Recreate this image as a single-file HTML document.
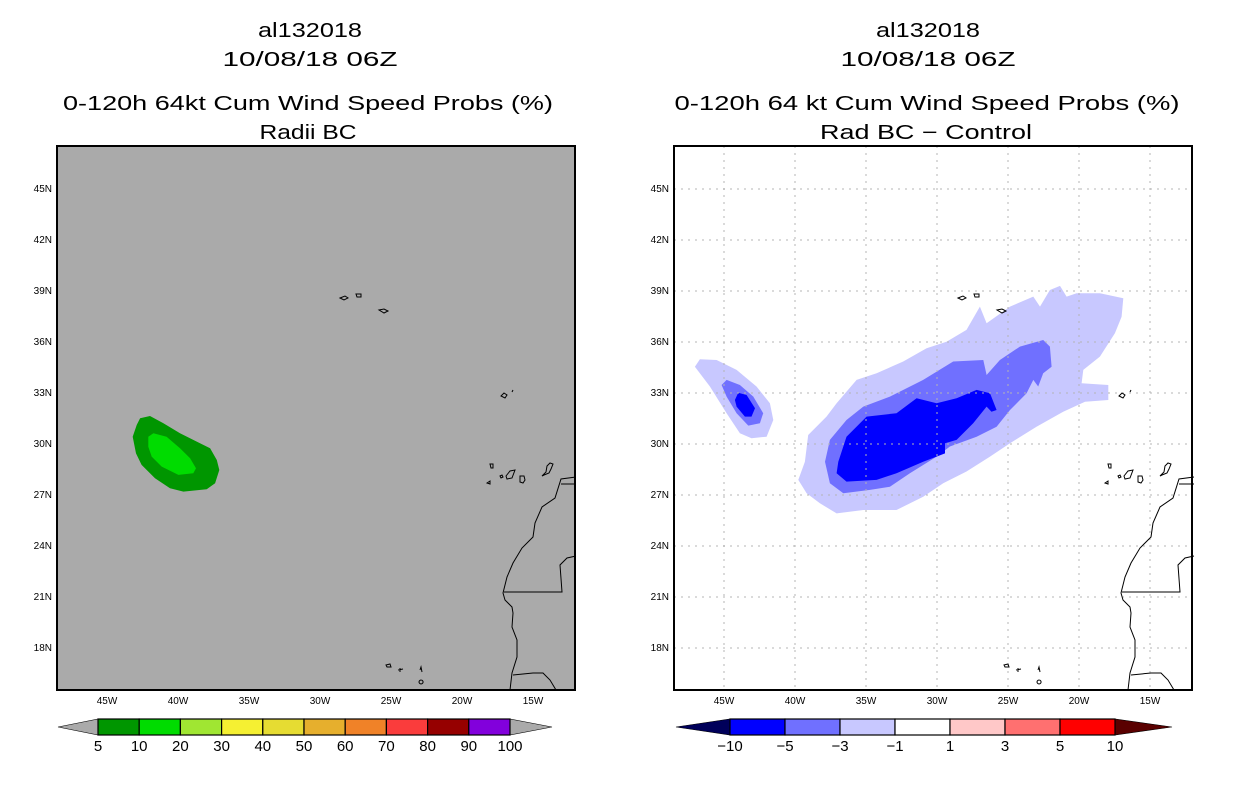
<!DOCTYPE html>
<html><head><meta charset="utf-8"><style>
html,body{margin:0;padding:0;background:#fff;}
svg text{font-family:"Liberation Sans",sans-serif;}
</style></head><body>
<svg id="chart" width="1236" height="800" viewBox="0 0 1236 800" xmlns="http://www.w3.org/2000/svg"></svg>
<script>
// ---- data ----
const latTicks=[45,42,39,36,33,30,27,24,21,18];
const lonTicks=[45,40,35,30,25,20,15];
const leftBounds=['5','10','20','30','40','50','60','70','80','90','100'];
const leftColors=['#009600','#00dc00','#a0e632','#f5f032','#e6dc32','#e6af2d','#f08228','#fa3c3c','#960000','#8200dc'];
const rightBounds=['\u221210','\u22125','\u22123','\u22121','1','3','5','10'];
const rightColors=['#0000ff','#7070ff','#c8c8ff','#ffffff','#ffc8c8','#ff7070','#ff0000'];
// contours: [lonW(negative), lat] pairs
const greenOuterLon=[-42.67,-41.97,-41.03,-39.86,-38.45,-37.74,-37.27,-37.09,-37.39,-37.98,-39.62,-40.56,-41.62,-42.56,-42.96,-43.19,-42.91];
const greenOuterLat=[31.51,31.65,31.22,30.63,30.04,29.75,29.06,28.47,27.69,27.34,27.2,27.4,27.98,28.77,29.45,30.43,31.12];
const greenInnerLon=[-42.09,-41.73,-40.8,-39.86,-39.15,-38.73,-38.92,-39.97,-41.15,-41.85,-42.09];
const greenInnerLat=[30.43,30.63,30.43,29.75,29.16,28.57,28.28,28.18,28.67,29.26,29.84];
const diffLightLon=[-39.77,-39.3,-39.07,-37.78,-37.07,-35.66,-34.25,-32.38,-30.73,-29.33,-27.92,-26.98,-26.51,-24.86,-23.22,-22.75,-22.05,-21.34,-20.87,-20.17,-18.53,-16.88,-17.0,-17.47,-18.53,-19.7,-19.82,-17.94,-17.94,-19.58,-21.11,-22.99,-24.86,-26.27,-27.92,-29.56,-30.97,-32.85,-35.19,-37.07,-38.25,-39.18];
const diffLightLat=[27.89,28.96,30.53,31.61,32.4,33.77,34.16,34.85,35.63,36.02,36.71,38.08,37.1,38.08,38.67,38.08,39.06,39.3,38.67,38.87,38.87,38.57,37.49,36.51,35.14,34.36,33.57,33.47,32.59,32.49,31.9,31.02,30.04,29.26,28.38,27.69,26.9,26.12,26.12,25.92,26.51,27.1];
const diffMedLon=[-37.89,-37.54,-36.37,-35.19,-33.32,-30.97,-28.86,-26.74,-26.51,-25.57,-24.16,-22.52,-22.05,-21.93,-22.52,-22.87,-23.22,-23.69,-24.86,-25.8,-27.21,-29.09,-30.03,-31.91,-33.32,-34.72,-36.6,-37.54];
const diffMedLat=[28.96,30.24,31.41,32.2,32.79,33.77,34.85,34.94,34.06,34.94,35.73,36.12,35.73,34.55,34.16,33.38,33.77,32.98,32.0,31.02,30.43,29.85,29.26,28.28,27.49,27.3,27.1,27.69];
const diffDarkLon=[-37.07,-36.95,-36.37,-34.96,-32.85,-31.44,-30.03,-28.62,-27.21,-26.27,-25.8,-26.16,-26.51,-27.45,-28.62,-29.44,-29.44,-30.97,-32.85,-34.25,-36.37];
const diffDarkLat=[28.28,28.96,30.43,31.61,31.81,32.69,32.4,32.69,33.18,32.98,32.0,31.9,32.2,31.22,30.24,30.04,29.45,28.96,28.28,27.89,27.79];
const smallLightLon=[-47.05,-46.7,-45.52,-44.11,-42.71,-41.77,-41.53,-42.0,-43.06,-43.88,-44.82,-45.99];
const smallLightLat=[34.55,34.98,34.94,34.36,33.38,32.4,31.41,30.43,30.34,30.63,31.81,33.38];
const smallMedLon=[-45.17,-44.82,-43.88,-42.94,-42.24,-42.47,-43.29,-44.11,-44.82];
const smallMedLat=[33.47,33.77,33.47,32.79,31.81,31.22,31.08,31.81,32.79];
const smallDarkLon=[-44.23,-44.0,-43.41,-42.82,-43.06,-43.53,-44.11];
const smallDarkLat=[32.59,33.02,32.88,32.1,31.61,31.61,32.2];

const svg=document.getElementById('chart');
const NS='http://www.w3.org/2000/svg';
function mk(tag,attrs,parent){const e=document.createElementNS(NS,tag);for(const k in attrs)e.setAttribute(k,attrs[k]);(parent||svg).appendChild(e);return e;}
const PX=14.2, PY=17.0;
function xS(off,lon){return 107+off+(lon+45)*PX;}
function yS(lat){return 189+(45-lat)*PY;}
function poly(off,lons,lats,fill,name){
  const pts=lons.map((l,i)=>xS(off,l).toFixed(1)+','+yS(lats[i]).toFixed(1)).join(' ');
  const p=mk('polygon',{points:pts,fill:fill});
  
  
}
function txt(x,y,s,size,len,name,anchor){
  const t=mk('text',{x:x,y:y,'font-size':size,'text-anchor':anchor||'middle'});
  if(len){t.setAttribute('textLength',len);t.setAttribute('lengthAdjust','spacingAndGlyphs');}
  t.textContent=s;
  
  
  return t;
}
const coastD='M576,477 L561,479 L555,498 L542,507 L535,523 L533,537 L522,548 L513,563 L507,577 L503,593 L505,600 L512,607 L513,613 L512,627 L517,640 L517,657 L512,673 L510,690 M561,484 L576,484 M504,592 L562,592 L560,565 L567,558 L576,556 M513,675 L533,673 L543,673 L550,680 L556,690';
const islandsD='M340,298 l5,-2 l3,2 l-4,2 z M356,294 l5,0 l0,3 l-4,0 z M379,310 l5,-1 l4,2 l-4,2 z M501,396 l3,-3 l3,2 l-2,3 z M512,392 l1,-2 M490,464 l3,0 l0,4 l-2,0 z M487,483 l3,-2 l0,3 z M500,476 l2,-1 l1,2 l-2,1 z M506,476 l4,-5 l5,-1 l-3,8 l-5,1 z M520,476 l4,0 l1,4 l-2,3 l-3,-1 z M542,476 l4,-4 l1,-6 l3,-3 l3,1 l-2,5 l-2,4 l-5,2 z M386,665 l4,-1 l1,3 l-4,0 z M398,670 l5,-1 M400,668 l0,4 M420,670 l1,-3 l1,5 M421,680 a2,2 0 1,0 0.1,0';

function panel(off,idx){
  const g=mk('g',{});
  
  
  const L=57+off, R=575+off, T=146, B=690;
  const bg=mk('rect',{x:L,y:T,width:R-L,height:B-T,fill:idx===0?'#aaaaaa':'#ffffff'},g);
  
  
}
function frameAndAxes(off,idx){
  const L=57+off, R=575+off, T=146, B=690;
  const gc='#b4b4b4';
  latTicks.forEach(lat=>{
    const y=yS(lat);
    const ln=mk('line',{x1:L,x2:R,y1:y,y2:y,stroke:gc,'stroke-width':1,'stroke-dasharray':'2,5',opacity:idx===0?0:1});
    
    
    txt(L-5,y+3,lat+'N',10,null,'lat-tick-label','end');
  });
  lonTicks.forEach(lon=>{
    const x=xS(off,-lon);
    const ln=mk('line',{x1:x,x2:x,y1:T,y2:B,stroke:gc,'stroke-width':1,'stroke-dasharray':'2,5',opacity:idx===0?0:1});
    
    
    txt(x,704,lon+'W',10,null,'lon-tick-label');
  });
  const c=mk('path',{d:coastD,fill:'none',stroke:'#000','stroke-width':1,transform:'translate('+(idx===0?0:618)+',0)'});
  
  
  const is=mk('path',{d:islandsD,fill:'none',stroke:'#000','stroke-width':1,transform:'translate('+(idx===0?0:618)+',0)'});
  
  
  const f=mk('rect',{x:L,y:T,width:R-L,height:B-T,fill:'none',stroke:'#000','stroke-width':2});
  
  
}
panel(0,0);
poly(0,greenOuterLon,greenOuterLat,leftColors[0],'prob-5-10-contour');
poly(0,greenInnerLon,greenInnerLat,leftColors[1],'prob-10-20-contour');
frameAndAxes(0,0);
const OFF=617;
panel(OFF,1);
poly(OFF,diffLightLon,diffLightLat,rightColors[2],'diff-minus1-contour');
poly(OFF,diffMedLon,diffMedLat,rightColors[1],'diff-minus3-contour');
poly(OFF,diffDarkLon,diffDarkLat,rightColors[0],'diff-minus5-contour');
poly(OFF,smallLightLon,smallLightLat,rightColors[2],'small-diff-minus1-contour');
poly(OFF,smallMedLon,smallMedLat,rightColors[1],'small-diff-minus3-contour');
poly(OFF,smallDarkLon,smallDarkLat,rightColors[0],'small-diff-minus5-contour');
frameAndAxes(OFF,1);

txt(310,37,'al132018',20,104,'left-storm-id');
txt(310,66,'10/08/18 06Z',20,175,'left-date');
txt(308,110,'0-120h 64kt Cum Wind Speed Probs (%)',20,490,'left-title');
txt(308,139,'Radii BC',20,97,'left-subtitle');
txt(928,37,'al132018',20,104,'right-storm-id');
txt(928,66,'10/08/18 06Z',20,175,'right-date');
txt(927,110,'0-120h 64 kt Cum Wind Speed Probs (%)',20,505,'right-title');
txt(926,139,'Rad BC \u2212 Control',20,212,'right-subtitle');

function colorbar(x0,x1,tipL,tipR,colors,bounds,triL,triR,name){
  const g=mk('g',{});
  
  
  const y0=719,y1=735,ym=727;
  const w=(x1-x0)/colors.length;
  const t1=mk('polygon',{points:tipL+','+ym+' '+x0+','+y0+' '+x0+','+y1,fill:triL,stroke:'#000','stroke-width':0.6},g);
  
  
  const t2=mk('polygon',{points:tipR+','+ym+' '+x1+','+y0+' '+x1+','+y1,fill:triR,stroke:'#000','stroke-width':0.6},g);
  
  
  colors.forEach((c,i)=>{
    const r=mk('rect',{x:x0+i*w,y:y0,width:w,height:y1-y0,fill:c,stroke:'#000','stroke-width':1.2},g);
    
    
  });
  bounds.forEach((b,i)=>{
    txt(x0+i*w,751,b,15,null,'colorbar-label');
  });
}
colorbar(98,510,58,552,leftColors,leftBounds,'#aaaaaa','#aaaaaa','left-colorbar');
colorbar(730,1115,676,1172,rightColors,rightBounds,'#00005a','#5a0000','right-colorbar');
</script>
</body></html>
